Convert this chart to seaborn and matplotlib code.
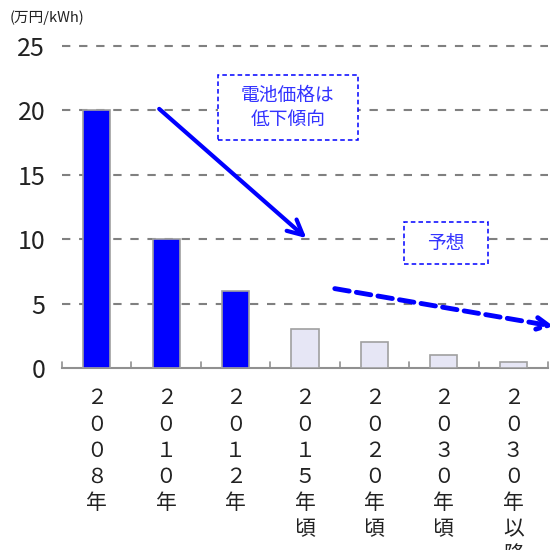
import matplotlib
matplotlib.use("Agg")
import matplotlib.pyplot as plt
import seaborn as sns
import pandas as pd
from matplotlib.patches import Rectangle

categories = ["２００８年", "２０１０年", "２０１２年", "２０１５年頃", "２０２０年頃", "２０３０年頃", "２０３０年以降"]
values = [20, 10, 6, 3, 2, 1, 0.5]
kinds = ["実績", "実績", "実績", "予想", "予想", "予想", "予想"]
yticks = [0, 5, 10, 15, 20, 25]

sns.set_theme(style="white")
plt.rcParams['font.family'] = ['Noto Sans CJK JP', 'DejaVu Sans']

df = pd.DataFrame({"cat": categories, "val": values, "kind": kinds})

fig = plt.figure(figsize=(5.5, 5.5), dpi=100)
ax = fig.add_axes([62/550, 1-368/550, 486/550, 322/550])

sns.barplot(data=df, x="cat", y="val", hue="kind",
            palette={"実績": "#0000FF", "予想": "#E6E6F5"}, saturation=1,
            dodge=False, width=0.39, edgecolor="#A0A0A0", linewidth=1.2,
            legend=False, ax=ax, zorder=3)

ax.set_xlim(-0.5, 6.5)
ax.set_ylim(0, 25)
ax.set_yticks(yticks)
ax.set_yticklabels([str(v) for v in yticks], fontsize=18, color="#222222")
for y in yticks[1:]:
    ax.axhline(y, color="#808080", lw=1.5, ls=(0, (4, 4.2)), zorder=1, clip_on=False)

# vertical stacked x labels
ax.set_xticks(range(len(categories)))
ax.set_xticklabels(["\n".join(c) for c in categories], fontsize=15, color="#222222",
                   va="top", linespacing=1.24)
ax.tick_params(axis="x", length=0, pad=14)
ax.tick_params(axis="y", length=0, pad=12)

# minor ticks at category boundaries pointing in
for b in [i - 0.5 for i in range(len(categories) + 1)]:
    ax.plot([b, b], [0, 0.5], color="#909090", lw=1.2, zorder=4, clip_on=False)

for s in ["left", "right", "top"]:
    ax.spines[s].set_visible(False)
ax.spines["bottom"].set_color("#909090")
ax.spines["bottom"].set_linewidth(1.5)
ax.set_xlabel("")
ax.set_ylabel("")

fig.text(10/550, 1-18/550, "(万円/kWh)", fontsize=10.5, color="#222222", va="center", ha="left")

# annotation boxes
ax.add_patch(Rectangle((0.321, 0.708), 0.288, 0.202, transform=ax.transAxes,
                       fill=True, fc="white", ec="#0000FF", lw=1.1, ls=(0, (3, 2)), zorder=5))
ax.text(0.465, 0.809, "電池価格は\n低下傾向", transform=ax.transAxes, ha="center", va="center",
        fontsize=13.5, color="#3333FF", linespacing=1.15, zorder=6)
ax.add_patch(Rectangle((0.704, 0.323), 0.173, 0.130, transform=ax.transAxes,
                       fill=True, fc="white", ec="#0000FF", lw=1.1, ls=(0, (3, 2)), zorder=5))
ax.text(0.790, 0.388, "予想", transform=ax.transAxes, ha="center", va="center",
        fontsize=13.5, color="#3333FF", zorder=6)

# arrows
ax.annotate("", xy=(3.05, 9.94), xytext=(0.87, 20.26),
            arrowprops=dict(arrowstyle="->,head_length=0.9,head_width=0.45", color="#0000FF", lw=3),
            zorder=6)
ax.annotate("", xy=(6.62, 3.2), xytext=(3.39, 6.2),
            arrowprops=dict(arrowstyle="->,head_length=0.7,head_width=0.35", color="#0000FF", lw=3.5,
                            linestyle=(0, (3, 1.5))),
            zorder=6, annotation_clip=False)

fig.savefig("out.png", dpi=100)
